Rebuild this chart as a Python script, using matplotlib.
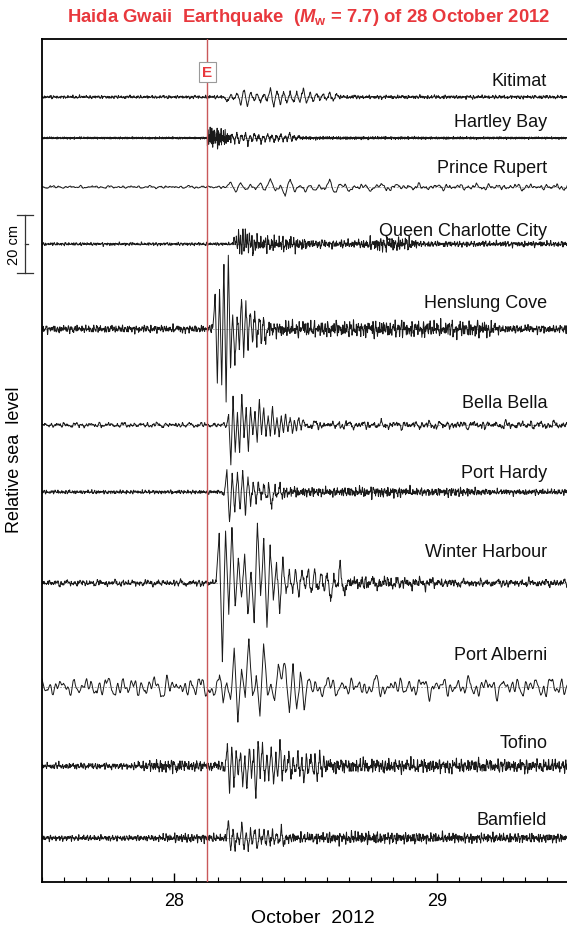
import numpy as np
import matplotlib
matplotlib.use("Agg")
import matplotlib.pyplot as plt

plt.rcParams['font.family'] = ['Liberation Sans', 'DejaVu Sans']
plt.rcParams['mathtext.fontset'] = 'custom'
plt.rcParams['mathtext.rm'] = 'Liberation Sans:bold'
plt.rcParams['mathtext.it'] = 'Liberation Sans:italic:bold'
plt.rcParams['mathtext.bf'] = 'Liberation Sans:bold'

# =========================
# data (hours after 28 Oct 2012 00:00 UTC, sea level in cm)
# =========================
stations = ['Kitimat', 'Hartley Bay', 'Prince Rupert', 'Queen Charlotte City',
            'Henslung Cove', 'Bella Bella', 'Port Hardy', 'Winter Harbour',
            'Port Alberni', 'Tofino', 'Bamfield']
quake_hour = 3.07

# main tsunami wave train: successive peaks / troughs (cm)
kitimat_waves = [-1.7, 0.7, -0.7, 1.5, -2.9, 2.9, -3.4, 2.0, -1.5, 1.2, -1.9, 1.0,
                 -1.2, 3.1, -3.4, 2.2, -2.4, 2.0, -2.2, 1.6, -1.9, 1.5, -1.8, 3.1,
                 -2.4, 1.5, -1.6, 1.6, -1.2, 1.0, -1.0, 1.5, -1.3, 0.8]
hartley_waves = [1.0, -1.5, 1.9, -2.0, 1.2, -1.0, 1.9, -2.4, 1.0, -1.2, 1.7, -1.0,
                 1.2, -1.7, 0.8, -1.0, 1.4, -0.8, 1.0, -1.5, 1.0, -0.8, 1.4, -1.0,
                 0.7, -0.9, 1.9, -1.0, 0.8, -0.7, 0.6]
rupert_waves = [1.3, -1.4, 1.5, -1.4, 0.8, -0.5, 1.0, -1.1, 2.6, -1.0, 0.3, -3.1,
                2.9, -1.3, 0.3, -1.2, 0.4, -0.9, 0.3, -1.3, 2.6, -1.7, 0.0, 0.9,
                -1.4, 0.3, -0.5, 0.8, -1.3, 0.4, -0.2, 0.7, -1.0, 0.5]
qcc_waves = [2.9, -1.2, 3.5, -2.5, 5.2, -3.4, 4.0, -3.0, 4.6, -3.4, 5.2, -2.6,
             3.8, -3.0, 4.4, -2.2, 3.0, -2.6]
henslung_waves = [12.6, -17.8, 13.8, -19.0, 22.4, -25.0, 25.9, -13.0, 6.5, -13.0,
                  4.0, -6.0, 11.5, -10.0, 9.0, -6.0, 7.5, -5.0, 6.3, -6.3, 5.0,
                  -4.5, 4.0, -4.0]
bella_waves = [-0.7, 4.8, -14.0, 9.4, -9.4, 4.0, -9.7, 11.0, -4.0, 6.0, -10.0, 6.5,
               -3.0, 4.0, -6.0, 9.0, -3.0, 6.5, -4.8, 3.0, -3.5, 6.0, -3.0, 3.5,
               -4.0, 2.5, -3.0, 4.3, -2.0, 2.5, -2.5, 2.0, -2.0, 2.5, -1.5, 1.5]
hardy_waves = [-1.0, 7.5, -11.3, 6.3, -6.9, 6.9, -6.3, 7.5, -7.5, 5.2, -4.6, 3.4,
               -3.0, 3.0, -2.5, 2.5, -2.5, 2.0, -5.7, 2.0, -2.0, 2.0, -1.5]
winter_waves = [17.6, -27.0, 18.0, -10.7, 20.0, -8.3, 8.4, -6.0, 10.7, -11.7, 5.0,
                -13.5, 20.5, -5.0, 15.0, -14.8, 12.4, -6.0, 7.0, -9.7, 7.8, -3.0,
                3.2, -3.0, 4.0, -4.0, 5.0, -3.0, 4.0, -3.0, 4.4, -3.0, 3.5, -3.0,
                4.0, -7.2, 3.5, -3.0, 6.0, -3.0]
alberni_waves = [-5.2, 5.7, -5.2, 2.0, -3.0, 11.0, -11.5, 6.0, -3.0, 15.5, -3.0, 5.0,
                 -11.0, 15.0, -3.0, 1.0, -4.0, 8.0, 2.0, 7.0, -8.0, 7.0, -8.6, 6.3,
                 -6.0]
tofino_waves = [-1.0, 7.8, -9.2, 6.9, -6.9, 5.0, -3.0, 4.5, -5.5, 3.0, -8.6, 6.9,
                -4.0, 5.0, -10.9, 8.6, -3.0, 7.0, -5.7, 4.0, -4.0, 6.9, -6.3, 3.0,
                -3.0, 8.0, -4.6, 3.0, -3.0, 5.2, -3.4, 2.5, -3.0, 3.4, -2.5, 2.5,
                -5.2, 3.0, -2.5, 4.0, -3.0, 2.5, -5.2, 4.6, -2.5, 2.0]
bamfield_waves = [5.7, -4.8, 3.2, -4.2, 2.0, -2.5, 5.3, -4.3, 2.0, -3.7, 2.0, -2.0,
                  3.8, -4.3, 2.0, -2.0, 2.5, -2.0, 2.0, -2.0, 2.0, -2.0, 2.0, -2.5,
                  3.8, -2.5]

waves = [kitimat_waves, hartley_waves, rupert_waves, qcc_waves, henslung_waves,
         bella_waves, hardy_waves, winter_waves, alberni_waves, tofino_waves,
         bamfield_waves]
wave_start = [4.9, 5.35, 5.2, 5.5, 3.77, 4.8, 4.6, 4.14, 3.83, 4.68, 4.99]
wave_half = [0.3, 0.2, 0.45, 0.1, 0.2, 0.2, 0.24, 0.29, 0.335, 0.2, 0.2]

# background oscillation level (hour, cm)
kitimat_env = [(-12, 0.5), (3.0, 0.5), (3.1, 1.3), (3.3, 0.5), (15, 0.6), (36, 0.55)]
hartley_env = [(-12, 0.35), (3.0, 0.35), (3.1, 3.4), (4.3, 3.2), (5.0, 2.0), (5.4, 0.6),
               (12, 0.5), (36, 0.35)]
rupert_env = [(-12, 0.45), (5, 0.45), (20, 1.0), (36, 1.0)]
qcc_env = [(-12, 0.5), (5.4, 0.5), (5.6, 1.5), (7.2, 2.8), (11.5, 2.2), (12.5, 1.3),
           (17, 1.3), (18.7, 2.4), (21.5, 2.2), (22.5, 0.9), (36, 0.9)]
henslung_env = [(-12, 1.2), (3.5, 1.2), (8.5, 2.5), (20, 2.6), (28.5, 2.6), (30, 1.3),
                (36, 1.3)]
bella_env = [(-12, 0.8), (4.8, 0.8), (12, 1.3), (36, 1.3)]
hardy_env = [(-12, 0.6), (4.6, 0.6), (9, 1.8), (14, 1.4), (19, 1.8), (23, 1.2),
             (26, 1.5), (29, 0.9), (36, 0.9)]
winter_env = [(-12, 1.0), (4, 1.0), (16, 2.2), (20, 2.0), (23, 1.8), (26, 1.2), (36, 1.2)]
alberni_env = [(-12, 2.4), (-5, 3.4), (3.5, 3.4), (8, 1.5), (12, 3.2), (36, 3.2)]
tofino_env = [(-12, 1.0), (-4, 1.0), (-1, 2.2), (3, 1.5), (4.6, 1.5), (14, 2.3), (36, 2.0)]
bamfield_env = [(-12, 0.9), (-2, 0.9), (0, 1.5), (4.9, 1.2), (12, 1.6), (16, 2.0),
                (24, 1.6), (36, 1.4)]
envs = [kitimat_env, hartley_env, rupert_env, qcc_env, henslung_env, bella_env,
        hardy_env, winter_env, alberni_env, tofino_env, bamfield_env]
fast_share = [0.7, 0.9, 0.2, 0.8, 0.75, 0.35, 0.8, 0.5, 0.1, 0.7, 0.85]
period_scale = [1.0, 0.6, 1.2, 1.0, 1.0, 1.0, 1.0, 1.0, 1.4, 1.0, 1.0]

# =========================
# layout (pixels of the 567x929 picture)
# =========================
trace_px = [98, 139, 188, 245, 330, 426, 493, 584, 688, 767, 839]
label_px = [86, 127, 173, 236, 308, 408, 478, 557, 660, 748, 825]
PX_CM = 2.9
TOP_PX, BOT_PX = 40, 883
PX_DAY = 262.9


def py(px):
    return -(px - TOP_PX) / PX_CM


def pxday(px):
    return 27.5 + (px - 42) / PX_DAY


t_h = np.arange(-12 * 60, 36 * 60 + 1) / 60.0
fast_p = np.array([5.3, 7.1, 9.2, 11.9, 15.4, 19.8]) / 60.0
slow_p = np.array([17.5, 24.1, 32.7, 45.3, 61.9, 87.2]) / 60.0


def texture(h, periods, k):
    ph = (np.arange(1, len(periods) + 1) * k * 2.39996) % (2 * np.pi)
    s = np.sin(2 * np.pi * h[:, None] / periods[None, :] + ph[None, :]).sum(axis=1)
    return s / s.std()


fig = plt.figure(figsize=(5.67, 9.29), dpi=100)
ax = fig.add_axes([42 / 567, 1 - BOT_PX / 929, 527 / 567, (BOT_PX - TOP_PX) / 929])

for i, name in enumerate(stations):
    off = py(trace_px[i])
    w = np.array(waves[i])
    te = wave_start[i] + wave_half[i] * np.arange(len(w))
    te_full = np.r_[te[0] - wave_half[i], te, te[-1] + wave_half[i]]
    ve_full = np.r_[0.0, w, 0.0]
    grid = np.union1d(t_h, te)
    packet = np.interp(grid, te_full, ve_full, left=0.0, right=0.0)
    sc = period_scale[i]
    mix = fast_share[i] * texture(grid, fast_p * sc, i + 1) + \
        (1 - fast_share[i]) * texture(grid, slow_p * sc, i + 1.7)
    mix /= mix.std()
    eh, ec = zip(*envs[i])
    env = np.interp(grid, eh, ec)
    y = off + packet + 0.5 * env * mix
    ax.axhline(off, color='#8a8a8a', lw=0.5, ls=(0, (3, 2)), zorder=1)
    ax.plot(28 + grid / 24, y, color='#1a1a1a', lw=0.7, zorder=2)
    ax.text(pxday(546), py(label_px[i]), name, ha='right', va='baseline',
            fontsize=13, color='#111111', zorder=5)

red = '#e8383d'
xq = 28 + quake_hour / 24
ax.axvline(xq, color='#c9585a', lw=1.0, zorder=3)
ax.text(xq, py(73), 'E', color=red, fontsize=11, fontweight='bold', ha='center',
        va='center', zorder=6,
        bbox=dict(boxstyle='square,pad=0.22', fc='white', ec='#9a9a9a', lw=0.8))

# 20 cm scale bar beside Queen Charlotte City
yc = py(trace_px[3])
kw = dict(color='#333333', lw=0.9, clip_on=False)
ax.plot([pxday(25), pxday(25)], [yc - 10, yc + 10], **kw)
ax.plot([pxday(17), pxday(33)], [yc + 10, yc + 10], **kw)
ax.plot([pxday(17), pxday(33)], [yc - 10, yc - 10], **kw)
ax.plot([pxday(25), pxday(28)], [yc, yc], **kw)
ax.text(pxday(14), yc, '20 cm', rotation=90, ha='center', va='center', fontsize=10.5)

ax.set_xlim(27.5, 29.5)
ax.set_ylim(py(BOT_PX), 0)
ax.set_yticks([])
ax.set_xticks([28, 29])
ax.set_xticklabels(['28', '29'])
ax.set_xticks(np.arange(27.5, 29.51, 1 / 12), minor=True)
ax.tick_params(axis='x', which='major', direction='in', length=6.5, width=1.0,
               labelsize=13, pad=7)
ax.tick_params(axis='x', which='minor', direction='in', length=3.9, width=0.8)
for s in ['left', 'top', 'bottom']:
    ax.spines[s].set_linewidth(1.3)
ax.spines['right'].set_visible(False)

fig.text(313 / 567, 1 - 923 / 929, 'October  2012', ha='center', va='baseline',
         fontsize=14)
fig.text(15 / 567, 1 - 460 / 929, 'Relative sea  level', rotation=90, ha='center',
         va='center', fontsize=13)
fig.text(309 / 567, 1 - 18 / 929,
         r'Haida Gwaii  Earthquake  ($M_\mathrm{w}$ = 7.7) of 28 October 2012',
         ha='center', va='center', fontsize=13.3, fontweight='bold', color=red)

fig.savefig('out.png', dpi=100)
